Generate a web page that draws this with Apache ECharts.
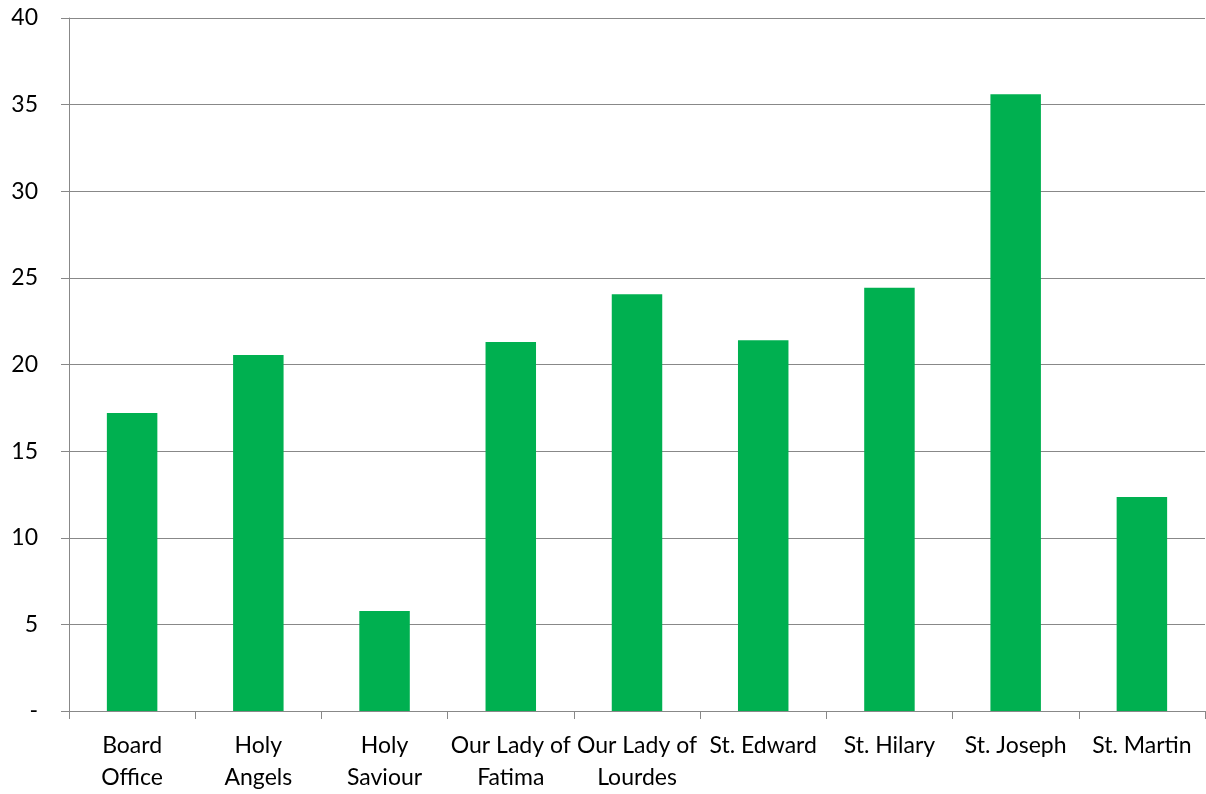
<!DOCTYPE html>
<html>
<head>
<meta charset="utf-8">
<script src="https://cdn.jsdelivr.net/npm/echarts@6/dist/echarts.min.js"></script>
<style>
  html, body { margin: 0; padding: 0; background: #fff; }
  #main { width: 1206px; height: 794px; }
</style>
</head>
<body>
<div id="main"></div>
<script>
  // 分类与数值
  var categories = ['Board\nOffice', 'Holy\nAngels', 'Holy\nSaviour', 'Our Lady of\nFatima', 'Our Lady of\nLourdes', 'St. Edward', 'St. Hilary', 'St. Joseph', 'St. Martin'];
  var values = [17.2, 20.55, 5.77, 21.3, 24.06, 21.4, 24.43, 35.6, 12.35];
  var yTicks = [0, 5, 10, 15, 20, 25, 30, 35, 40];

  var font = 'Lato, "Open Sans", sans-serif';
  var myChart = echarts.init(document.getElementById('main'));
  myChart.setOption({
    animation: false,
    grid: { left: 69, right: 1, top: 18, bottom: 83, containLabel: false },
    xAxis: {
      type: 'category',
      data: categories,
      axisLine: { lineStyle: { color: '#888', width: 1 } },
      axisTick: { show: true, length: 8, alignWithLabel: false, lineStyle: { color: '#888' } },
      axisLabel: { color: '#000', fontSize: 23, fontFamily: font, lineHeight: 32, margin: 19, interval: 0 }
    },
    yAxis: {
      type: 'value',
      min: yTicks[0],
      max: yTicks[yTicks.length - 1],
      interval: 5,
      axisLine: { show: true, lineStyle: { color: '#888', width: 1 } },
      axisTick: { show: true, length: 8, lineStyle: { color: '#888' } },
      splitLine: { lineStyle: { color: '#888', width: 1 } },
      axisLabel: {
        color: '#000', fontSize: 23, fontFamily: font, margin: 31,
        formatter: function (v) { return v === 0 ? '-' : v; }
      }
    },
    series: [{
      type: 'bar',
      data: values,
      barWidth: '40%',
      itemStyle: { color: '#00B050' }
    }]
  });
</script>
</body>
</html>
